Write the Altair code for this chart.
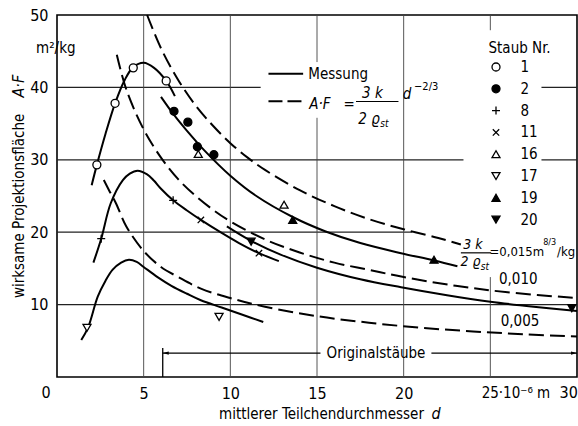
import altair as alt
import pandas as pd

FONT = "Liberation Sans Narrow, DejaVu Sans Condensed, sans-serif"
W, H = 520, 362

# ---------------- values ----------------
# measured curves ("Messung", solid)
m1_x = [2.0, 2.3, 2.8, 3.35, 3.9, 4.4, 5.0, 5.6, 6.3, 6.8]
m1_y = [26.5, 29.3, 33.6, 37.8, 41.0, 42.8, 43.4, 42.7, 40.9, 38.8]
m2_x = [2.1, 2.55, 3.1, 3.8, 4.2, 4.65, 5.2, 5.6, 6.0, 6.7, 7.5, 8.3, 9.5, 10.5, 11.65, 12.8]
m2_y = [15.8, 19.1, 24.0, 27.2, 28.1, 28.5, 28.0, 27.1, 26.0, 24.4, 23.0, 21.7, 19.9, 18.5, 17.1, 16.0]
m3_x = [1.4, 1.8, 2.35, 2.8, 3.2, 3.7, 4.15, 4.6, 5.0, 5.8, 6.6, 7.5, 8.3, 9.5, 10.7, 11.9]
m3_y = [5.1, 6.9, 11.1, 13.3, 14.8, 15.8, 16.2, 15.9, 15.2, 13.8, 12.6, 11.5, 10.6, 9.6, 8.6, 7.6]
o1_x = [6.0, 6.75, 7.5, 8.5, 10.0, 11.5, 13.6, 15.5, 17.5, 19.85, 21.75, 23.1]
o1_y = [38.7, 36.2, 34.0, 31.3, 27.8, 25.0, 22.1, 20.1, 18.5, 17.1, 16.1, 15.3]
o2_x = [9.8, 11.2, 12.9, 15.0, 17.5, 19.85, 22.5, 25.0, 27.5, 30.0]
o2_y = [20.8, 18.8, 16.9, 15.1, 13.5, 12.4, 11.3, 10.4, 9.7, 9.1]

# curves A*F = 3k/(2 rho) d^-2/3 (dashed)
t015_x = [5.2, 6, 7, 8, 9, 10, 11, 12, 14, 16, 18, 20, 22, 23.3]
t015_y = [50.0, 45.4, 41.0, 37.5, 34.7, 32.3, 30.3, 28.6, 25.8, 23.6, 21.8, 20.4, 19.2, 18.3]
t010_x = [3.45, 4, 5, 6, 7, 8, 9, 10, 12, 14, 16, 18, 20, 23, 26, 30]
t010_y = [44.5, 39.7, 34.2, 30.3, 27.3, 25.0, 23.1, 21.5, 19.0, 17.2, 15.8, 14.8, 13.8, 12.6, 11.7, 10.9]
t005_x = [2.7, 3.0, 3.4, 4.0, 5.0, 6.0, 7.0, 8.3, 10, 12, 15, 18, 21, 24, 27, 30]
t005_y = [27.2, 25.8, 24.0, 20.8, 17.4, 15.2, 13.8, 12.2, 10.9, 9.7, 8.4, 7.5, 6.8, 6.3, 5.9, 5.6]

# measured points per dust number
dust_ids = ["1", "2", "8", "11", "16", "17", "19", "20"]
PLUS = "M-1,0L1,0M0,-1L0,1"
CROSS = "M-0.8,-0.8L0.8,0.8M-0.8,0.8L0.8,-0.8"
dust_shapes = ["circle", "circle", PLUS, CROSS, "triangle-up", "triangle-down", "triangle-up", "triangle-down"]
dust_fills = ["white", "black", "white", "white", "white", "white", "black", "black"]
pt_dust = ["1", "1", "1", "1", "2", "2", "2", "2", "8", "8", "11", "11",
           "16", "16", "17", "17", "19", "19", "20", "20"]
pt_x = [2.3, 3.35, 4.4, 6.3, 6.75, 7.55, 8.1, 9.05, 2.55, 6.7, 8.3, 11.65,
        8.15, 13.1, 1.73, 9.35, 13.6, 21.75, 11.2, 29.7]
pt_y = [29.3, 37.8, 42.7, 40.9, 36.7, 35.2, 31.8, 30.7, 19.1, 24.4, 21.7, 17.1,
        30.8, 23.8, 6.8, 8.3, 21.7, 16.2, 18.7, 9.5]

# grid line pieces (the printed grid is interrupted by labels)
h_y = [10, 20, 30, 30, 40, 40]
h_x1 = [0, 0, 0, 27.95, 0, 27.95]
h_x2 = [30, 20.5, 23.45, 30, 11.75, 30]
v_x = [5, 10, 15, 15, 20, 25, 25]
v_y1 = [0, 0, 0, 43.5, 0, 0, 47.9]
v_y2 = [50, 50, 35.8, 50, 50, 13.8, 50]

x_ticks = [5, 10, 15, 20]
y_ticks = [10, 20, 30, 40, 50]

# ---------------- chart ----------------
X = alt.Scale(domain=[0, 30], nice=False, zero=False)
Y = alt.Scale(domain=[0, 50], nice=False, zero=False)

xaxis = alt.Axis(values=x_ticks, title=None, grid=False, domain=False, ticks=False,
                 labelFont=FONT, labelFontSize=16, labelPadding=8, labelColor="black",
                 labelOverlap=False, labelFlush=False)
yaxis = alt.Axis(values=y_ticks, title=None, grid=False, domain=False, ticks=False,
                 labelFont=FONT, labelFontSize=16, labelPadding=9, labelColor="black",
                 labelOverlap=False, labelFlush=False)


def xq(f="x"):
    return alt.X(f + ":Q", scale=X, axis=xaxis, title=None)


def yq(f="y"):
    return alt.Y(f + ":Q", scale=Y, axis=yaxis, title=None)


def long(d):
    rows = []
    for name, (xs, ys) in d.items():
        rows += [{"c": name, "x": a, "y": b} for a, b in zip(xs, ys)]
    return pd.DataFrame(rows)


hgrid = alt.Chart(pd.DataFrame({"x": h_x1, "x2": h_x2, "y": h_y})).mark_rule(
    color="#222", strokeWidth=1.2).encode(x=xq(), x2="x2:Q", y=yq())
vgrid = alt.Chart(pd.DataFrame({"x": v_x, "y": v_y1, "y2": v_y2})).mark_rule(
    color="#444", strokeWidth=0.9).encode(x=xq(), y=yq(), y2="y2:Q")

solid = alt.Chart(long({"m1": (m1_x, m1_y), "m2": (m2_x, m2_y), "m3": (m3_x, m3_y),
                        "o1": (o1_x, o1_y), "o2": (o2_x, o2_y)})).mark_line(
    interpolate="catmull-rom", color="black", strokeWidth=2, clip=False).encode(
    x=xq(), y=yq(), detail="c:N")
dashed = alt.Chart(long({"t015": (t015_x, t015_y), "t010": (t010_x, t010_y),
                         "t005": (t005_x, t005_y)})).mark_line(
    interpolate="catmull-rom", color="black", strokeWidth=2, strokeDash=[15, 6], clip=False).encode(
    x=xq(), y=yq(), detail="c:N")

leg = alt.Legend(title="Staub Nr.", orient="none", legendX=431.5, legendY=25.5,
                 titleFont=FONT, titleFontSize=15, titleFontWeight="normal", titleColor="black",
                 labelFont=FONT, labelFontSize=15, labelColor="black",
                 symbolSize=64, symbolStrokeWidth=1.3,
                 rowPadding=5.8, labelOffset=17, titlePadding=4, padding=0)
points = alt.Chart(pd.DataFrame({"dust": pt_dust, "x": pt_x, "y": pt_y})).mark_point(
    filled=True, strokeWidth=1.3, size=64, opacity=1, clip=False).encode(
    x=xq(), y=yq(),
    shape=alt.Shape("dust:N", scale=alt.Scale(domain=dust_ids, range=dust_shapes), legend=leg),
    fill=alt.Fill("dust:N", scale=alt.Scale(domain=dust_ids, range=dust_fills), legend=leg),
    stroke=alt.Stroke("dust:N", scale=alt.Scale(domain=dust_ids, range=["black"] * len(dust_ids)),
                      legend=leg))


def seg(x1, x2, y1, y2, width=1.4, dash=None):
    kw = dict(color="black", strokeWidth=width, clip=False)
    if dash:
        kw["strokeDash"] = dash
    return alt.Chart(pd.DataFrame({"x": [x1], "x2": [x2], "y": [y1], "y2": [y2]})).mark_rule(**kw).encode(
        x=xq(), x2="x2:Q", y=yq(), y2="y2:Q")


def txt(x, y, s, size=15, italic=False, align="left", baseline="middle", angle=0):
    kw = dict(font=FONT, fontSize=size, align=align, baseline=baseline, color="black", clip=False)
    if italic:
        kw["fontStyle"] = "italic"
    if angle:
        kw["angle"] = angle
    return alt.Chart(pd.DataFrame({"x": [x], "y": [y], "t": [s]})).mark_text(**kw).encode(
        x=xq(), y=yq(), text="t:N")


def head(x, y, path):
    return alt.Chart(pd.DataFrame({"x": [x], "y": [y]})).mark_point(
        shape=path, filled=True, color="black", size=36, opacity=1, clip=False).encode(x=xq(), y=yq())


layers = [
    hgrid, vgrid, dashed, solid, points,
    # legend for lines
    seg(12.2, 14.2, 41.9, 41.9, 2), txt(14.5, 41.9, "Messung"),
    seg(12.2, 14.2, 38.1, 38.1, 2, [14, 5]), txt(14.55, 37.7, "A·F", italic=True),
    txt(16.85, 37.7, "=", align="center"),
    txt(18.2, 39.2, "3 k", italic=True, align="center"), seg(17.25, 19.7, 38.05, 38.05, 1.2),
    txt(18.0, 35.7, "2 ϱ", italic=True, align="center"), txt(18.65, 35.0, "st", size=10, italic=True),
    txt(19.95, 39.1, "d", italic=True), txt(20.6, 40.1, "−2/3", size=11),
    # curve labels
    txt(24.0, 18.2, "3 k", size=14, italic=True, align="center"), seg(23.3, 25.05, 17.15, 17.15, 1.2),
    txt(23.85, 15.9, "2 ϱ", size=14, italic=True, align="center"), txt(24.45, 15.25, "st", size=10, italic=True),
    txt(24.95, 17.25, "=0,015m", size=13), txt(28.05, 18.6, "8/3", size=9), txt(28.85, 17.25, "/kg", size=13),
    txt(25.5, 13.5, "0,010"), txt(25.6, 7.7, "0,005"),
    # Originalstäube
    seg(6.1, 6.1, 0, 4.0, 1.3), seg(6.1, 15.2, 3.3, 3.3, 1.3), seg(21.6, 30, 3.3, 3.3, 1.3),
    head(6.1, 3.3, "M0,0L2,-0.55L2,0.55Z"), head(30, 3.3, "M0,0L-2,-0.55L-2,0.55Z"),
    txt(18.4, 3.3, "Originalstäube", align="center"),
    # axis texts
    txt(-2.19, 10.9, "wirksame  Projektionsfläche", size=15, angle=270),
    txt(-2.19, 38.6, "A·F", size=16, italic=True, angle=270),
    txt(-1.21, 45.4, "m²/kg", size=15),
    txt(9.35, -5.1, "mittlerer  Teilchendurchmesser", size=15),
    txt(21.6, -5.1, "d", size=16, italic=True),
    txt(-0.63, -2.2, "0", size=16, align="center"),
    txt(24.5, -2.2, "25·10⁻⁶ m", size=15),
    txt(30.05, -2.2, "30", size=16, align="right"),
]

chart = alt.layer(*layers).properties(
    width=W, height=H, background="white",
    autosize=alt.AutoSizeParams(type="none"),
    padding={"left": 57, "top": 15, "right": 1, "bottom": 49},
).configure_view(stroke="black", strokeWidth=1.6)

chart.save("out.html", embed_options={"renderer": "svg", "actions": False})
